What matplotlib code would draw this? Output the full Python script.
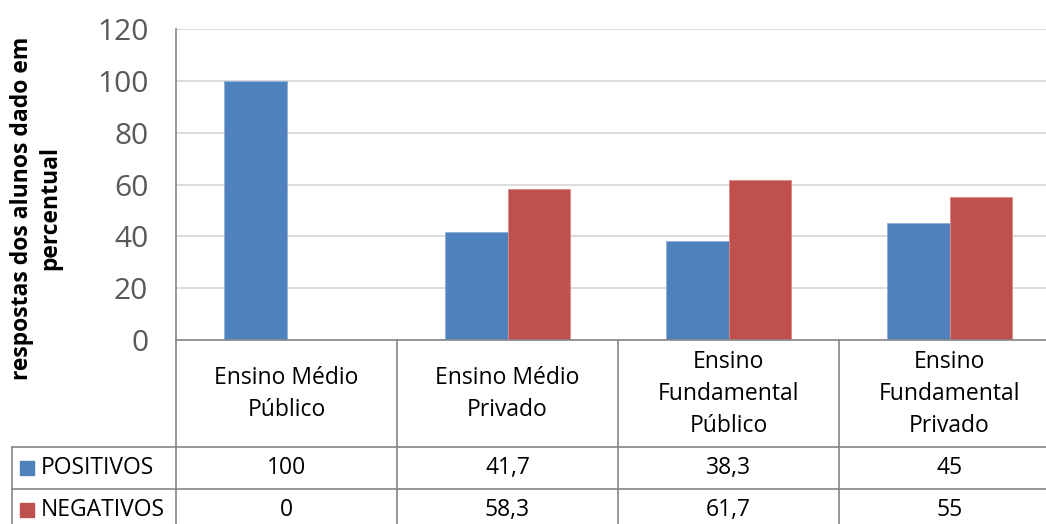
import numpy as np
import matplotlib.pyplot as plt
from matplotlib.transforms import blended_transform_factory

categories = ['Ensino Médio\nPúblico', 'Ensino Médio\nPrivado',
              'Ensino\nFundamental\nPúblico', 'Ensino\nFundamental\nPrivado']
series_names = ['POSITIVOS', 'NEGATIVOS']
positivos = [100, 41.7, 38.3, 45]
negativos = [0, 58.3, 61.7, 55]
yticks = [0, 20, 40, 60, 80, 100, 120]

blue = '#4F81BD'
red = '#C0504D'
grid_c = '#D9D9D9'
axis_c = '#868686'

plt.rcParams['font.family'] = ['Open Sans', 'DejaVu Sans']

W, H = 1046, 524
fig = plt.figure(figsize=(W / 100, H / 100), dpi=100)

# plot area in pixels (runs a bit past the right edge of the figure)
x0, x1 = 176, 1060
y_top, y_zero = 29, 340
ax = fig.add_axes([x0 / W, (H - y_zero) / H, (x1 - x0) / W, (y_zero - y_top) / H])

x = np.arange(len(categories))
bw = 0.285
ax.bar(x - bw / 2, positivos, bw, color=blue, edgecolor='#8EB0DA', linewidth=0.6, zorder=3)
ax.bar(x + bw / 2, negativos, bw, color=red, edgecolor='#D98A88', linewidth=0.6, zorder=3)

ax.set_xlim(-0.5, len(categories) - 0.5)
ax.set_ylim(0, 120)
ax.set_yticks(yticks)
ax.set_yticklabels([str(v) for v in yticks], fontsize=21.5, color='#595959')
ax.tick_params(axis='y', length=0, pad=20)
ax.set_xticks([])
ax.yaxis.grid(True, color=grid_c, linewidth=1.3, zorder=0)
for s in ['top', 'right']:
    ax.spines[s].set_visible(False)
ax.spines['left'].set_color(axis_c)
ax.spines['left'].set_linewidth(1.2)
ax.spines['bottom'].set_color(axis_c)
ax.spines['bottom'].set_linewidth(1.2)
ax.spines['bottom'].set_zorder(4)

fig.text(36 / W, 1 - 208 / H, 'respostas dos alunos dado em\npercentual',
         rotation=90, ha='center', va='center', multialignment='center',
         fontsize=16.5, fontweight='bold', linespacing=1.2)

# data table under the plot
trans = blended_transform_factory(ax.transData, ax.transAxes)
ph = y_zero - y_top


def ay(py):
    return (y_zero - py) / ph


row_lines = [447, 489]
row_mid = [468, 510]
bottom = 540
legend_left = (12 - x0) / (x1 - x0) * len(categories) - 0.5
line_kw = dict(color=axis_c, linewidth=1.2, clip_on=False, transform=trans)

for b in np.arange(len(categories) + 1) - 0.5:
    ax.plot([b, b], [0, ay(bottom)], **line_kw)
for r in row_lines:
    ax.plot([legend_left, len(categories) - 0.5], [ay(r), ay(r)], **line_kw)
ax.plot([legend_left, legend_left], [ay(row_lines[0]), ay(bottom)], **line_kw)

for i, cat in enumerate(categories):
    ax.text(i, ay(394), cat, transform=trans, ha='center', va='center',
            fontsize=16.5, linespacing=1.42, clip_on=False)
    for vals, ym in zip([positivos, negativos], row_mid):
        ax.text(i, ay(ym), f'{vals[i]:g}'.replace('.', ','), transform=trans,
                ha='center', va='center', fontsize=16.5, clip_on=False)

for name, col, ym in zip(series_names, [blue, red], row_mid):
    fig.patches.append(plt.Rectangle((20 / W, 1 - (ym + 7) / H), 14 / W, 14 / H,
                                     color=col, transform=fig.transFigure))
    fig.text(41 / W, 1 - ym / H, name, ha='left', va='center', fontsize=16.5)

fig.savefig('out.png', dpi=100)
